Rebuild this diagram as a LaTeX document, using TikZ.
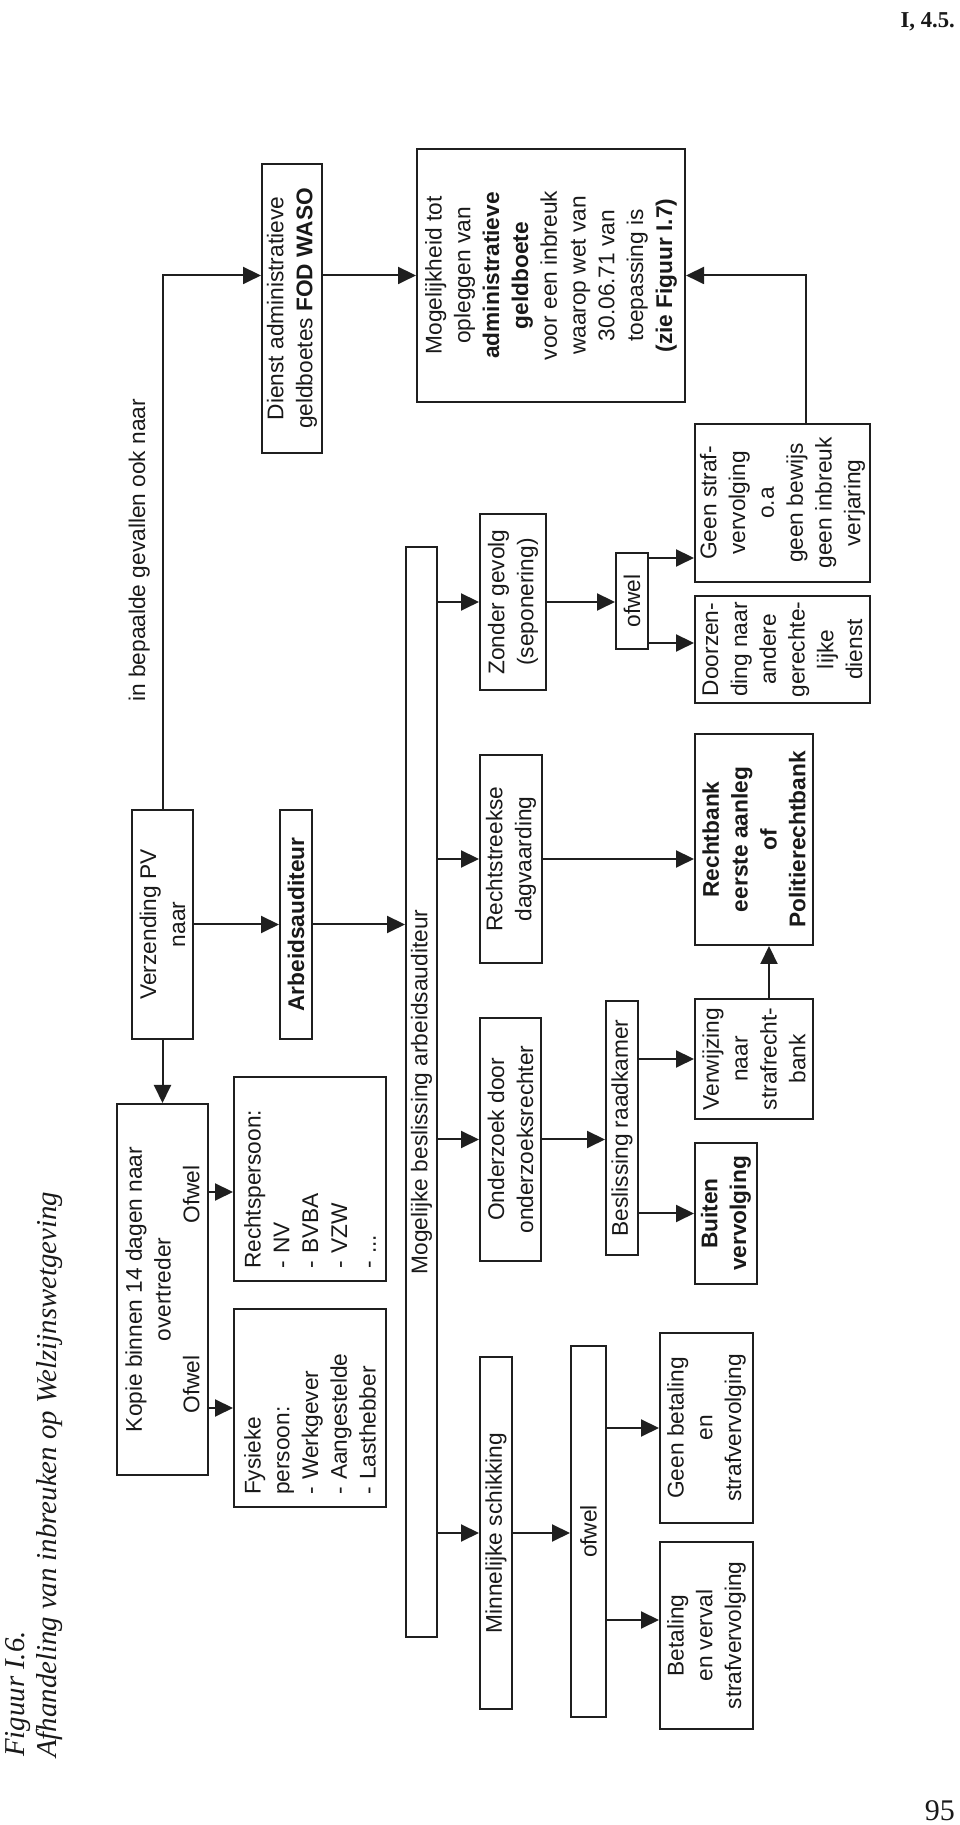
\documentclass[tikz,border=0pt]{standalone}
\usepackage{fontspec}
\setmainfont{Liberation Serif}
\setsansfont{Liberation Sans}
\usetikzlibrary{arrows.meta,calc}

\colorlet{ink}{black!88}

\begin{document}
\begin{tikzpicture}[x=1pt, y=1pt,
  box/.style={draw=ink, line width=2pt, align=center, inner sep=0pt, text=black!90, font=\sffamily\fontsize{22.7}{28.8}\selectfont},
  lst/.style={box, align=left, inner xsep=12pt},
  lbl/.style={inner sep=0pt, text=black!90, font=\sffamily\fontsize{22.7}{28.8}\selectfont},
  ttl/.style={inner sep=0pt, text=black!90, font=\itshape\fontsize{28.8}{32}\selectfont},
  arr/.style={-{Triangle[length=18pt, width=17pt]}, line width=2pt, draw=ink}
]
\fill[white] (0,0) rectangle (960,1825);
\useasboundingbox (0,0) rectangle (960,1825);
% page head and page number
\node[anchor=base east, inner sep=0pt, text=black!90, font=\bfseries\fontsize{22.7}{26}\selectfont] (sec) at (955,1797) {I, 4.5.};
\node[anchor=base east, inner sep=0pt, text=black!90, font=\fontsize{30}{34}\selectfont] (pg) at (955,5) {95};
% the figure itself is set sideways
\begin{scope}[rotate=90, transform shape]
\node[ttl, anchor=base west] (fig) at (68,-24.5) {Figuur I.6.};
\node[ttl, anchor=base west] (ttl2) at (67,-56.5) {Afhandeling van inbreuken op Welzijnswetgeving};
% PV and first steps
\node[box, minimum width=371pt, minimum height=91pt] (kopie) at (535.5,-162.5) {Kopie binnen 14 dagen naar\\overtreder\\\makebox[248pt]{Ofwel\hfill Ofwel}};
\node[box, minimum width=229pt, minimum height=61pt] (vz) at (900.5,-162.5) {Verzending PV\\naar};
\node[box, minimum width=289pt, minimum height=60pt] (dienst) at (1516.5,-292) {Dienst administratieve\\geldboetes \textbf{FOD WASO}};
\node[box, minimum width=229pt, minimum height=32pt, font=\sffamily\bfseries\fontsize{22.7}{28.8}\selectfont] (arb) at (900.5,-296) {Arbeidsauditeur};
\node[lst, text width=174pt, minimum height=152pt] (fp) at (417,-310) {Fysieke\\persoon:\\- Werkgever\\- Aangestelde\\- Lasthebber};
\node[lst, text width=180pt, minimum height=152pt] (rp) at (646,-310) {Rechtspersoon:\\- NV\\- BVBA\\- VZW\\- ...};
\node[lbl, anchor=base west] (note) at (1123,-145) {in bepaalde gevallen ook naar};
% decision of the auditeur
\node[box, minimum width=1090pt, minimum height=31pt] (bar) at (733,-421.5) {Mogelijke beslissing arbeidsauditeur};
\node[box, minimum width=253pt, minimum height=268pt] (mog) at (1549.5,-551) {Mogelijkheid tot\\opleggen van\\\textbf{administratieve}\\\textbf{geldboete}\\voor een inbreuk\\waarop wet van\\30.06.71 van\\toepassing is\\\textbf{(zie Figuur I.7)}};
\node[box, minimum width=352pt, minimum height=32pt] (minn) at (292,-496) {Minnelijke schikking};
\node[box, minimum width=243pt, minimum height=61pt] (ond) at (685.5,-510.5) {Onderzoek door\\onderzoeksrechter};
\node[box, minimum width=208pt, minimum height=62pt] (rs) at (966,-511) {Rechtstreekse\\dagvaarding};
\node[box, minimum width=176pt, minimum height=66pt] (zg) at (1223,-513) {Zonder gevolg\\(seponering)};
\node[box, minimum width=371pt, minimum height=35pt] (ofw1) at (293.5,-588.5) {ofwel};
\node[box, minimum width=254pt, minimum height=32pt] (besl) at (697,-622) {Beslissing raadkamer};
\node[box, minimum width=96pt, minimum height=32pt] (ofw2) at (1224,-632) {ofwel};
% outcomes
\node[box, minimum width=190pt, minimum height=93pt] (gb) at (397,-706.5) {Geen betaling\\en\\strafvervolging};
\node[box, minimum width=187pt, minimum height=93pt] (bv) at (189.5,-706.5) {Betaling\\en verval\\strafvervolging};
\node[box, minimum width=141pt, minimum height=62pt, font=\sffamily\bfseries\fontsize{22.7}{28.8}\selectfont] (bui) at (611.5,-726) {Buiten\\vervolging};
\node[box, minimum width=120pt, minimum height=118pt] (vw) at (766,-754) {Verwijzing\\naar\\strafrecht-\\bank};
\node[box, minimum width=211pt, minimum height=118pt, font=\sffamily\bfseries\fontsize{22.7}{28.8}\selectfont] (rb) at (985.5,-754) {Rechtbank\\eerste aanleg\\of\\Politierechtbank};
\node[box, minimum width=107pt, minimum height=175pt] (dz) at (1175.5,-782.5) {Doorzen-\\ding naar\\andere\\gerechte-\\lijke\\dienst};
\node[box, minimum width=158pt, minimum height=175pt] (gs) at (1322,-782.5) {Geen straf-\\vervolging\\o.a\\geen bewijs\\geen inbreuk\\verjaring};
% connectors
\draw[arr] (vz.east) -- (vz.east -| mog) -- (dienst.north -| mog);
\draw[arr] (dienst.south -| mog) -- (mog.north);
\draw[arr] (vz.south) -- (arb.north);
\draw[arr] (arb.south) -- (arb.south |- bar.north);
\draw[arr] (vz.west) -- (kopie.east);
\draw[arr] ($(kopie.south)+(97.5,0)$) -- ($(rp.north)+(-13,0)$);
\draw[arr] (fp.north |- kopie.south) -- (fp.north);
\foreach \n in {minn,ond,rs,zg} \draw[arr] (\n.north |- bar.south) -- (\n.north);
\draw[arr] (minn.south) -- (minn.south |- ofw1.north);
\draw[arr] (gb.north |- ofw1.south) -- (gb.north);
\draw[arr] ($(ofw1.south)+(-88.5,0)$) -- ($(bv.north)+(15.5,0)$);
\draw[arr] (ond.south) -- (ond.south |- besl.north);
\foreach \n in {vw,bui} \draw[arr] (\n.north |- besl.south) -- (\n.north);
\draw[arr] ($(vw.east)+(0,-15)$) -- ($(rb.west)+(0,-15)$);
\draw[arr] (rs.south) -- (rs.south |- rb.north);
\draw[arr] (zg.south) -- (zg.south |- ofw2.north);
\draw[arr] ($(ofw2.south east)+(-6,0)$) coordinate (o2a) -- (o2a |- gs.north);
\draw[arr] ($(ofw2.south west)+(7,0)$) coordinate (o2b) -- (o2b |- dz.north);
\draw[arr] ($(gs.east)+(0,-23.5)$) coordinate (gsout) -- (gsout -| mog.south) -- (mog.south);
\end{scope}
\end{tikzpicture}
\end{document}
